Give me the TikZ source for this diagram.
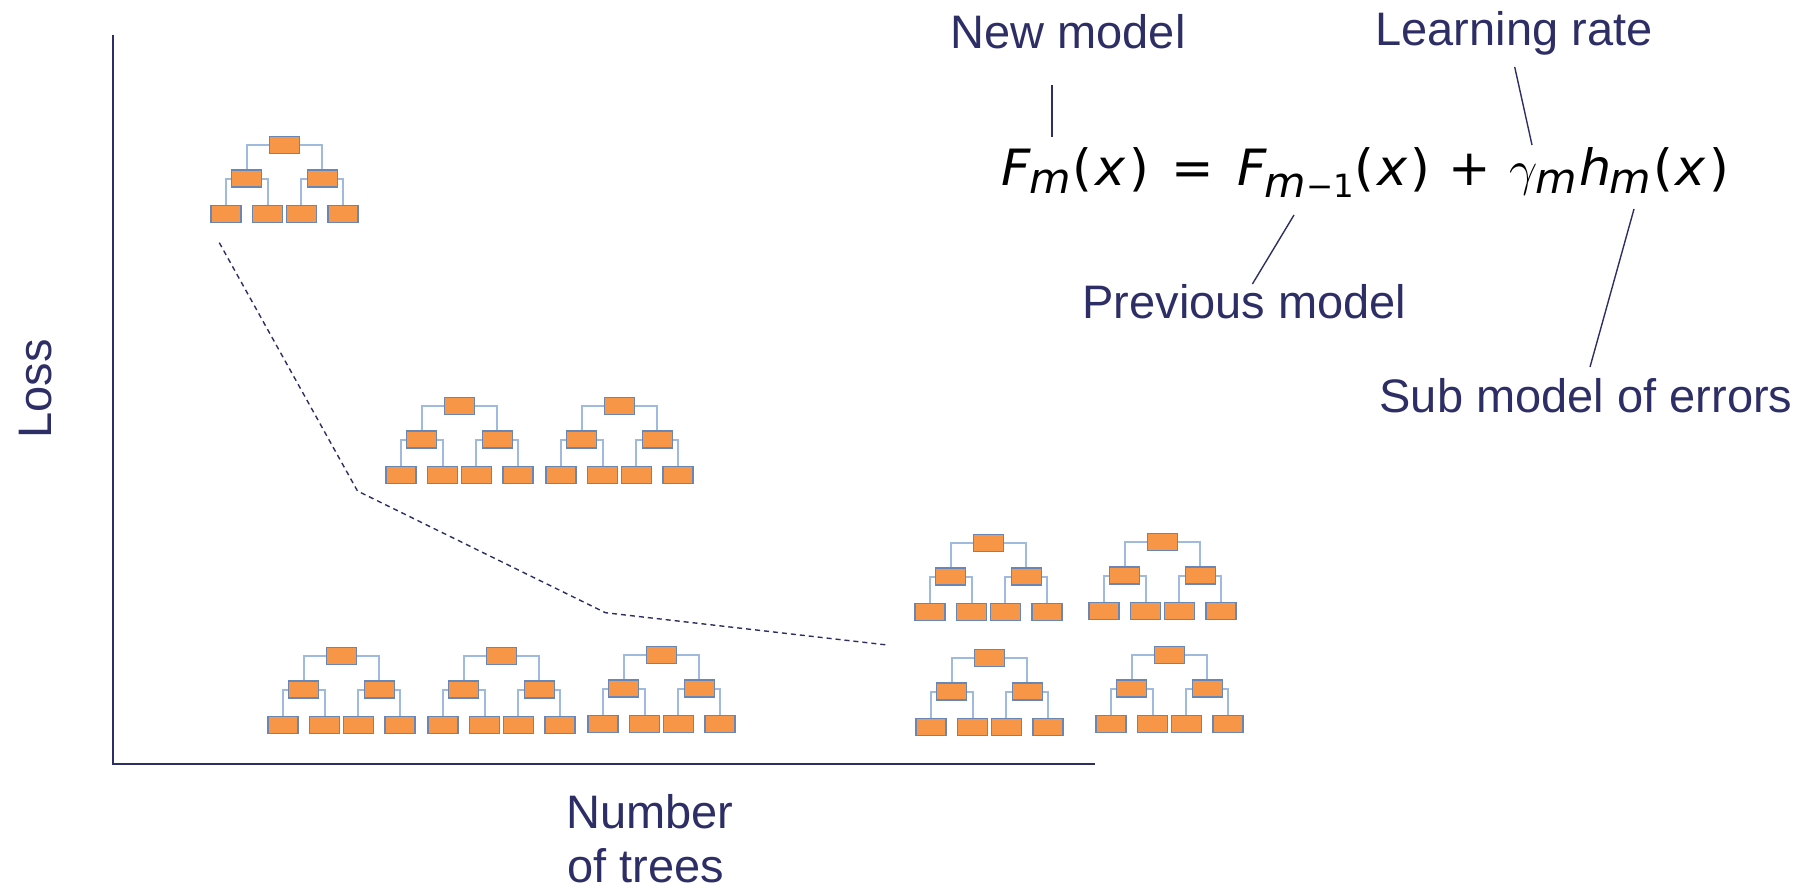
\documentclass[tikz,border=0pt]{standalone}
\usepackage{fontspec}
\setmainfont{Liberation Sans}
\newfontfamily\fmlfont{DejaVu Sans}
\definecolor{navy}{RGB}{46,46,102}
\definecolor{boxfill}{RGB}{247,150,70}
\definecolor{boxline}{RGB}{105,135,182}
\definecolor{branchc}{RGB}{160,186,222}
\newcommand{\subm}{\raisebox{-4pt}{\fontsize{21}{24}\selectfont\textit{m}}}
\newcommand{\submone}{\raisebox{-6pt}{\fontsize{21}{24}\selectfont\textit{m}\fontsize{16}{20}\selectfont −1}}
\newcommand{\parx}{(\kern1.5pt\textit{x}\kern1.5pt)}
\tikzset{
  treebox/.style={draw=boxline, fill=boxfill, line width=0.7pt, minimum width=15pt, minimum height=8.5pt, inner sep=0pt},
  branch/.style={draw=branchc, line width=1pt},
  lbl/.style={text=navy, font=\fontsize{23.5}{28}\selectfont, inner sep=0pt},
  leader/.style={draw=navy, line width=0.7pt},
  axisline/.style={draw=navy, line width=1pt},
  lossline/.style={draw=navy, line width=0.7pt, dash pattern=on 2.5pt off 2pt},
  gbtree/.pic={
    \node[treebox] (-r)  at (0,0) {};
    \node[treebox] (-a)  at (-38,33.5) {};
    \node[treebox] (-b)  at (37.8,33.5) {};
    \node[treebox] (-l1) at (-58.7,68.7) {};
    \node[treebox] (-l2) at (-17,68.7) {};
    \node[treebox] (-l3) at (16.8,68.7) {};
    \node[treebox] (-l4) at (58.3,68.7) {};
    \draw[branch] (-r.west) -| (-a.north);
    \draw[branch] (-r.east) -| (-b.north);
    \draw[branch] (-a.west) -| (-l1.north);
    \draw[branch] (-a.east) -| (-l2.north);
    \draw[branch] (-b.west) -| (-l3.north);
    \draw[branch] (-b.east) -| (-l4.north);
  }
}
\begin{document}
\begin{tikzpicture}[x=0.5pt, y=-0.5pt]
\useasboundingbox (0,0) rectangle (1804,889);

% axes
\coordinate (ytop) at (112.8,34.5);
\coordinate (origin) at (112.8,764);
\coordinate (xend) at (1095,764);
\draw[axisline] (ytop) -- (origin) -- (xend);

% trees
\pic (t1) at (284.5,145) {gbtree};
\pic (t2) at (459.5,406) {gbtree};
\pic (t3) at (619.5,406) {gbtree};
\pic (t4) at (341.5,656) {gbtree};
\pic (t5) at (501.5,656) {gbtree};
\pic (t6) at (661.5,655) {gbtree};
\pic (t7) at (988.5,543) {gbtree};
\pic (t8) at (1162.5,542) {gbtree};
\pic (t9) at (989.5,658) {gbtree};
\pic (t10) at (1169.5,655) {gbtree};

% loss curve
\coordinate (d1) at (219.3,242.7);
\coordinate (d2) at (357.5,491);
\coordinate (d3) at (605.4,612.7);
\coordinate (d4) at (887.3,645);
\draw[lossline] (d1) -- (d2) -- (d3) -- (d4);

% axis labels
\node[lbl, rotate=90] (loss) at (35.5,389) {Loss};
\node[lbl, anchor=base west] (num) at (566,828) {Number};
\node[lbl, anchor=base west] (oftrees) at (567,882) {of trees};

% formula
\node[anchor=base west, inner sep=0pt] (formula) at (1001,185) {\scalebox{1.015}[1]{\fmlfont\fontsize{25}{30}\selectfont
  \textit{F}\kern-1pt\subm\kern1pt\parx\hspace{0.45em}=\hspace{0.45em}\textit{F}\kern-1pt\submone\parx\hspace{0.36em}+\hspace{0.36em}$\gamma$\kern-1pt\subm\kern1pt\textit{h}\kern-1pt\subm\kern1pt\parx}};

% labels
\node[lbl, anchor=base] (newm) at (1068,48) {New model};
\node[lbl, anchor=base] (lrate) at (1514,45) {Learning rate};
\node[lbl, anchor=base] (prevm) at (1244.5,318) {Previous model};
\node[lbl, anchor=base] (subm) at (1586,412) {Sub model of errors};

% leader lines
\coordinate (nmA) at (1052,85);
\coordinate (nmB) at (1052,137);
\coordinate (lrA) at (1514.7,67);
\coordinate (lrB) at (1532,145);
\coordinate (pmA) at (1294,215);
\coordinate (pmB) at (1252.4,284);
\coordinate (smA) at (1634,209);
\coordinate (smB) at (1590,367);
\draw[leader] (nmA) -- (nmB);
\draw[leader] (lrA) -- (lrB);
\draw[leader] (pmA) -- (pmB);
\draw[leader] (smA) -- (smB);
\end{tikzpicture}
\end{document}
